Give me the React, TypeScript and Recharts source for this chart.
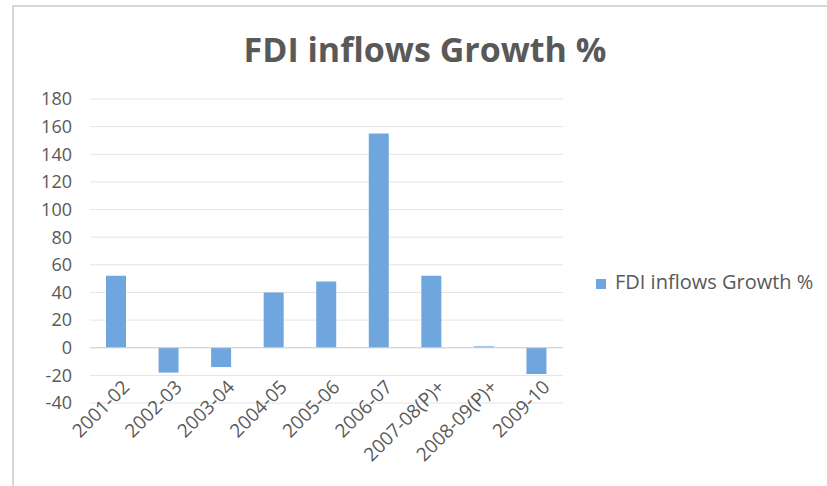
import { BarChart, Bar, XAxis, YAxis, CartesianGrid, Legend, ReferenceLine } from "recharts";

const years = [
  "2001-02", "2002-03", "2003-04", "2004-05", "2005-06",
  "2006-07", "2007-08(P)+", "2008-09(P)+", "2009-10",
];
const growth = [52, -18, -14, 40, 48, 155, 52, 1, -19];
const yTicks = [-40, -20, 0, 20, 40, 60, 80, 100, 120, 140, 160, 180];

const data = years.map((year, i) => ({ year, growth: growth[i] }));

const FONT = "'Open Sans', 'Noto Sans', sans-serif";
const GREY = "#595959";

// labels sit just under the zero line, like Excel's "next to axis"
function YearTick({ x, y, payload }: any) {
  const ax = x + 3;
  const ay = y - 34;
  return (
    <text
      x={ax}
      y={ay}
      transform={`rotate(-45 ${ax} ${ay})`}
      textAnchor="end"
      dominantBaseline="hanging"
      fill={GREY}
      fontSize={19}
      fontFamily={FONT}
    >
      {payload.value}
    </text>
  );
}

export default function App() {
  return (
    <div style={{ position: "absolute", left: 0, top: 0, width: 827, height: 486, background: "#fff" }}>
      <div
        style={{
          position: "absolute", left: 12, top: 5, width: 815, height: 481,
          borderLeft: "2px solid #d6d6d6", borderTop: "2px solid #d6d6d6", boxSizing: "border-box",
        }}
      />
      <div
        style={{
          position: "absolute", left: 0, top: 27, width: 850, textAlign: "center",
          fontFamily: FONT, fontWeight: 700, fontSize: 34, lineHeight: "45px", color: GREY,
        }}
      >
        FDI inflows Growth %
      </div>
      <div style={{ position: "absolute", left: 0, top: 0 }}>
        <BarChart width={827} height={486} data={data} margin={{ top: 99, right: 34, bottom: 53, left: 30 }}>
          <CartesianGrid vertical={false} stroke="#e4e4e4" />
          <XAxis
            dataKey="year"
            axisLine={false}
            tickLine={false}
            interval={0}
            tick={<YearTick />}
            height={30}
          />
          <YAxis
            domain={[-40, 180]}
            ticks={yTicks}
            interval={0}
            axisLine={false}
            tickLine={false}
            tickMargin={12}
            width={60}
            tick={{ fill: GREY, fontSize: 18, fontFamily: FONT }}
          />
          <ReferenceLine y={0} stroke="#d0d0d0" />
          <Bar dataKey="growth" name="FDI inflows Growth %" fill="#6ea6dd" barSize={20} isAnimationActive={false} />
          <Legend
            layout="vertical"
            align="right"
            verticalAlign="middle"
            iconType="square"
            iconSize={10}
            width={230}
            wrapperStyle={{ left: 596, top: 268, fontFamily: FONT, fontSize: 20 }}
            formatter={(v: string) => <span style={{ color: GREY, marginLeft: 5 }}>{v}</span>}
          />
        </BarChart>
      </div>
    </div>
  );
}
